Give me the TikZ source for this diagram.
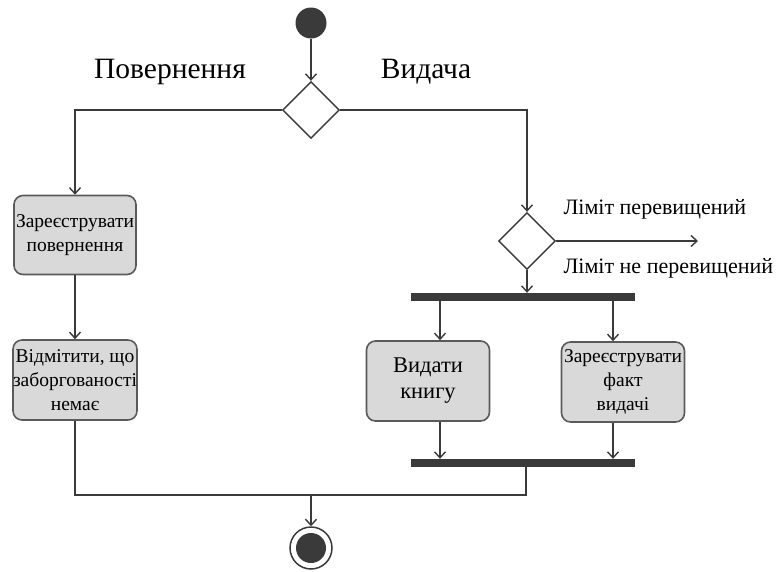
\documentclass[tikz,border=0pt]{standalone}
\usepackage{fontspec}
\setmainfont{Liberation Serif}
\usetikzlibrary{shapes.geometric,arrows.meta}
\definecolor{boxfill}{HTML}{D9D9D9}
\definecolor{boxline}{HTML}{5A5A5A}
\definecolor{ink}{HTML}{3A3A3A}
\begin{document}
\begin{tikzpicture}[x=1pt,y=-1pt,
  flow/.style={draw=ink,line width=1.4pt},
  arr/.style={flow,-{Straight Barb[length=6pt,width=11pt,line width=1.4pt]}},
  action/.style={draw=boxline,line width=1.6pt,fill=boxfill,rounded corners=9pt,
    minimum width=122pt,minimum height=79pt,inner sep=0pt,align=center,
    font=\fontsize{19.5}{24}\selectfont},
  decision/.style={diamond,draw=ink,line width=1.4pt,fill=white,
    minimum width=57pt,minimum height=57pt,inner sep=0pt},
  syncbar/.style={fill=ink,minimum height=8pt,inner sep=0pt},
  title/.style={font=\fontsize{29.5}{32}\selectfont},
  guard/.style={font=\fontsize{22}{24}\selectfont,anchor=west}]
\useasboundingbox (0,0) rectangle (777,571);

% start / end
\node (start) [circle,fill=ink,minimum size=31pt,inner sep=0pt] at (311,23) {};
\node (end) [circle,draw=ink,line width=1.5pt,minimum size=42pt,inner sep=0pt] at (311,548) {};
\node (endcore) [circle,fill=ink,minimum size=30pt,inner sep=0pt] at (end) {};

% decisions
\node (d1) [decision] at (311,110) {};
\node (d2) [decision] at (527,241) {};

% actions
\node (b1) [action] at (75,235) {Зареєструвати\\повернення};
\node (b2) [action,minimum height=80pt] at (75,380) {Відмітити, що\\заборгованості\\немає};
\node (b3) [action,minimum width=123pt,minimum height=80pt,font=\fontsize{22.5}{26}\selectfont] at (428,381) {Видати\\книгу};
\node (b4) [action,minimum width=123pt,minimum height=80pt] at (623,382) {Зареєструвати\\факт\\видачі};

% fork / join bars
\node (fork) [syncbar,minimum width=224pt] at (523,297) {};
\node (join) [syncbar,minimum width=224pt] at (523,463) {};

% labels
\node (tl) [title] at (170,72) {Повернення};
\node (tr) [title] at (426,72) {Видача};
\node (g1) [guard] at (560,209) {Ліміт перевищений};
\node (g2) [guard] at (560,268) {Ліміт не перевищений};

% helper points
\coordinate (exitR) at (698,241);
\coordinate (f1) at (440,297);
\coordinate (f2) at (613,297);
\coordinate (mL) at (75,495);
\coordinate (mR) at (526,495);
\coordinate (mC) at (311,495);

% connectors
\draw[arr] (start) -- (d1.north);
\draw[arr] (d1.west) -| (b1.north);
\draw[arr] (d1.east) -| (d2.north);
\draw[arr] (d2.east) -- (exitR);
\draw[arr] (d2.south) -- (d2.south |- fork.north);
\draw[arr] (b1.south) -- (b2.north);
\draw[arr] (f1 |- fork.south) -- (f1 |- b3.north);
\draw[arr] (f2 |- fork.south) -- (f2 |- b4.north);
\draw[arr] (f1 |- b3.south) -- (f1 |- join.north);
\draw[arr] (f2 |- b4.south) -- (f2 |- join.north);
\draw[flow] (b2.south) -- (mL) -- (mR) -- (mR |- join.south);
\draw[arr] (mC) -- (end.north);
\end{tikzpicture}
\end{document}
